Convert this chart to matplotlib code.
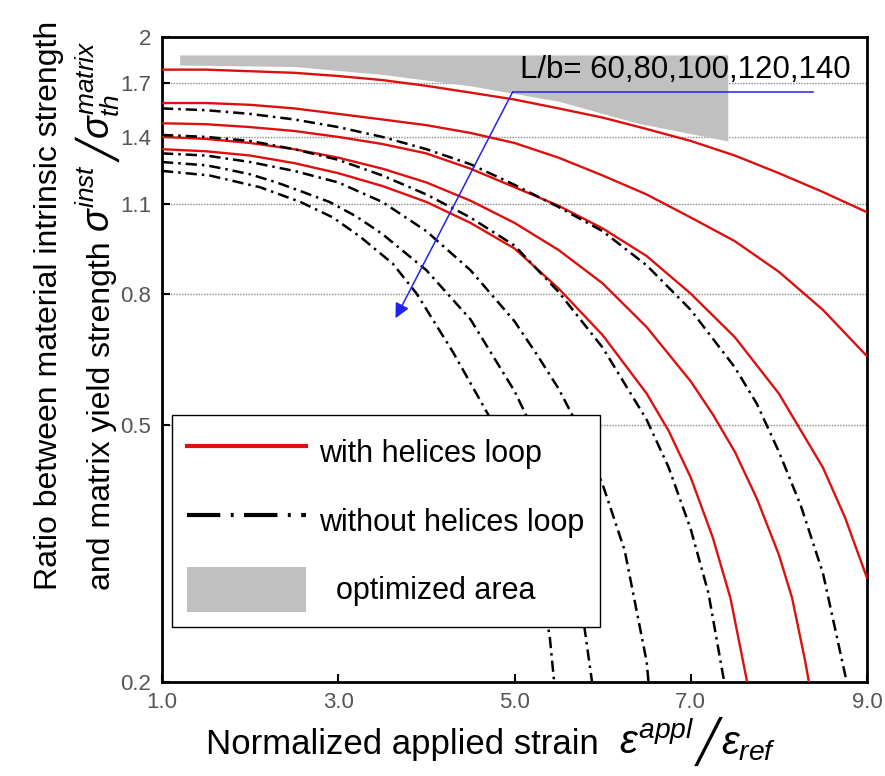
import matplotlib
matplotlib.use('Agg')
import matplotlib.pyplot as plt
from matplotlib.lines import Line2D
from matplotlib.patches import Patch
from matplotlib.transforms import IdentityTransform

plt.rcParams['font.family'] = ['Liberation Sans', 'DejaVu Sans']
plt.rcParams['mathtext.fontset'] = 'custom'
plt.rcParams['mathtext.it'] = 'Liberation Sans:italic'
plt.rcParams['mathtext.rm'] = 'Liberation Sans'

# curves with helices loop (red), L/b = 60..140
r1_x = [1.0, 1.5, 2.0, 2.5, 3.0, 3.5, 4.0, 4.5, 5.0, 5.5, 6.0, 6.5, 7.0, 7.5, 8.0, 8.5, 9.0]
r1_y = [1.78, 1.78, 1.77, 1.76, 1.74, 1.715, 1.68, 1.64, 1.60, 1.55, 1.50, 1.44, 1.38, 1.31, 1.23, 1.15, 1.07]
r2_x = [1.0, 1.5, 2.0, 2.5, 3.0, 3.5, 4.0, 4.5, 5.0, 5.5, 6.0, 6.5, 7.0, 7.5, 8.0, 8.5, 9.0]
r2_y = [1.58, 1.58, 1.57, 1.55, 1.52, 1.49, 1.46, 1.42, 1.37, 1.30, 1.22, 1.14, 1.05, 0.965, 0.865, 0.755, 0.64]
r3_x = [1.0, 1.5, 2.0, 2.5, 3.0, 3.5, 4.0, 4.5, 5.0, 5.5, 6.0, 6.5, 7.0, 7.5, 8.0, 8.5, 8.75, 9.0]
r3_y = [1.47, 1.465, 1.45, 1.43, 1.40, 1.365, 1.32, 1.25, 1.17, 1.095, 1.01, 0.915, 0.80, 0.685, 0.56, 0.43, 0.36, 0.29]
r4_x = [1.0, 1.5, 2.0, 2.5, 3.0, 3.5, 4.0, 4.5, 5.0, 5.5, 6.0, 6.5, 7.0, 7.25, 7.5, 7.75, 8.0, 8.15, 8.3, 8.4]
r4_y = [1.40, 1.39, 1.37, 1.34, 1.30, 1.25, 1.19, 1.115, 1.03, 0.935, 0.83, 0.71, 0.585, 0.52, 0.455, 0.385, 0.315, 0.27, 0.215, 0.18]
r5_x = [1.0, 1.5, 2.0, 2.5, 3.0, 3.5, 4.0, 4.5, 5.0, 5.5, 6.0, 6.5, 6.75, 7.0, 7.25, 7.45, 7.64, 7.7]
r5_y = [1.34, 1.33, 1.31, 1.275, 1.23, 1.175, 1.11, 1.03, 0.94, 0.815, 0.69, 0.56, 0.49, 0.415, 0.335, 0.27, 0.20, 0.18]

# curves without helices loop (black dash-dot)
b1_x = [1.0, 1.5, 2.0, 2.5, 3.0, 3.5, 4.0, 4.5, 5.0, 5.5, 6.0, 6.5, 7.0, 7.5, 7.75, 8.0, 8.25, 8.5, 8.77, 8.82]
b1_y = [1.55, 1.54, 1.52, 1.49, 1.45, 1.40, 1.34, 1.27, 1.18, 1.09, 1.00, 0.885, 0.755, 0.615, 0.54, 0.455, 0.375, 0.295, 0.20, 0.18]
b2_x = [1.0, 1.5, 2.0, 2.5, 3.0, 3.5, 4.0, 4.5, 5.0, 5.5, 6.0, 6.5, 6.75, 7.0, 7.2, 7.38, 7.42]
b2_y = [1.41, 1.40, 1.38, 1.34, 1.29, 1.22, 1.14, 1.05, 0.95, 0.805, 0.66, 0.51, 0.43, 0.345, 0.275, 0.20, 0.18]
b3_x = [1.0, 1.5, 2.0, 2.5, 3.0, 3.5, 4.0, 4.5, 5.0, 5.25, 5.5, 5.75, 6.0, 6.25, 6.5, 6.55]
b3_y = [1.32, 1.31, 1.28, 1.24, 1.19, 1.11, 1.00, 0.87, 0.725, 0.645, 0.57, 0.49, 0.405, 0.32, 0.215, 0.18]
b4_x = [1.0, 1.5, 1.7, 2.0, 2.3, 2.6, 2.9, 3.2, 3.5, 4.0, 4.5, 5.0, 5.25, 5.5, 5.7, 5.88, 5.92]
b4_y = [1.28, 1.265, 1.25, 1.225, 1.19, 1.15, 1.11, 1.055, 0.99, 0.87, 0.73, 0.565, 0.48, 0.385, 0.30, 0.20, 0.18]
b5_x = [1.0, 1.54, 2.11, 2.57, 2.94, 3.25, 3.62, 3.89, 4.3, 4.7, 5.0, 5.2, 5.4, 5.45, 5.5]
b5_y = [1.24, 1.22, 1.17, 1.11, 1.05, 0.98, 0.89, 0.80, 0.65, 0.52, 0.415, 0.34, 0.235, 0.20, 0.18]

# optimized area
gray_x = [1.2, 2.5, 3.5, 4.5, 5.5, 6.4, 7.42]
gray_low = [1.81, 1.80, 1.75, 1.68, 1.59, 1.47, 1.38]
gray_top = 1.876

yticks = [0.2, 0.5, 0.8, 1.1, 1.4, 1.7, 2.0]
ytick_labels = ['0.2', '0.5', '0.8', '1.1', '1.4', '1.7', '2']
xticks = [1, 3, 5, 7, 9]
xtick_labels = ['1.0', '3.0', '5.0', '7.0', '9.0']

red = '#dd1010'
blue = '#2222ee'
dashdot = (4.5, 2.0, 1.0, 2.0)

fig = plt.figure(figsize=(8.85, 7.76), dpi=100)
ax = fig.add_axes([162 / 885, 1 - 682 / 776, 705 / 885, 645 / 776])

ax.fill_between(gray_x, gray_low, [gray_top] * len(gray_x), color='#c0c0c0', lw=0, zorder=1)

for xs, ys in [(r1_x, r1_y), (r2_x, r2_y), (r3_x, r3_y), (r4_x, r4_y), (r5_x, r5_y)]:
    ax.plot(xs, ys, color=red, lw=1.7, zorder=3)
for xs, ys in [(b1_x, b1_y), (b2_x, b2_y), (b3_x, b3_y), (b4_x, b4_y), (b5_x, b5_y)]:
    ax.plot(xs, ys, color='black', lw=1.8, dashes=dashdot, zorder=3)

ax.set_yscale('log')
ax.set_xlim(1, 9)
ax.set_ylim(0.2, 2.0)
ax.set_yticks(yticks)
ax.set_yticklabels(ytick_labels)
ax.yaxis.set_minor_locator(matplotlib.ticker.NullLocator())
ax.set_xticks(xticks)
ax.set_xticklabels(xtick_labels)
ax.tick_params(axis='both', direction='in', length=6, width=1.5, labelsize=16,
               labelcolor='#555555', right=False, top=False)
ax.tick_params(axis='y', pad=8)
ax.tick_params(axis='x', pad=7)
ax.grid(axis='y', linestyle=(0, (1, 1)), color='#888888', lw=1.0)
ax.set_axisbelow(True)
for sp in ax.spines.values():
    sp.set_linewidth(2)

# annotation
ax.plot([4.98, 8.39], [1.645, 1.645], color=blue, lw=1.1, zorder=5)
ax.annotate('', xy=(3.65, 0.733), xytext=(4.98, 1.645),
            arrowprops=dict(arrowstyle='-|>', color=blue, lw=1.1,
                            mutation_scale=22, shrinkA=0, shrinkB=0), zorder=5)
ax.text(5.06, 1.73, 'L/b= 60,80,100,120,140', fontsize=22.5, va='baseline', ha='left', zorder=6)

handles = [Line2D([], [], color=red, lw=3),
           Line2D([], [], color='black', lw=3, dashes=(8, 2.5, 0.7, 2.5)),
           Patch(facecolor='#c0c0c0', edgecolor='none')]
labels = ['with helices loop', 'without helices loop', '  optimized area']
leg = ax.legend(handles, labels, loc='upper left', bbox_to_anchor=(0.014, 0.414),
                borderaxespad=0, fontsize=22, frameon=True, fancybox=False,
                edgecolor='black', framealpha=1, handlelength=3.9, handleheight=1.87,
                handletextpad=0.42, labelspacing=0.78, borderpad=0.5)
leg.get_frame().set_linewidth(1.0)
leg.set_zorder(10)

# axis titles, written piece by piece so the slash can be tall and thin
renderer = fig.canvas.get_renderer()
H = 776


def run_text(pieces, x, y, rotated=False):
    for s, size, shift, fam in pieces:
        kw = dict(fontsize=size, ha='left', va='baseline', transform=IdentityTransform())
        if fam:
            kw['family'] = fam
        if rotated:
            t = fig.text(x + shift, y, s, rotation=90, rotation_mode='anchor', **kw)
            y = t.get_window_extent(renderer).y1 + 1
        else:
            t = fig.text(x, y - shift, s, **kw)
            x = t.get_window_extent(renderer).x1 + 1


run_text([('Normalized applied strain  ', 25, 0, None),
          (r'$\varepsilon^{appl}$', 29, 0, None),
          ('\u2571', 30, 3, 'DejaVu Sans'),
          (r'$\varepsilon_{ref}$', 29, 0, None)], 206, H - 754)

run_text([('Ratio between material intrinsic strength', 23, 0, None)], 57, H - 590, rotated=True)
run_text([('and matrix yield strength ', 23, 0, None),
          (r'$\sigma^{inst}$', 27, 0, None),
          ('\u2571', 27, 3, 'DejaVu Sans'),
          (r'$\sigma_{th}^{matrix}$', 27, 0, None)], 110, H - 590, rotated=True)

fig.savefig('out.png', dpi=100)
